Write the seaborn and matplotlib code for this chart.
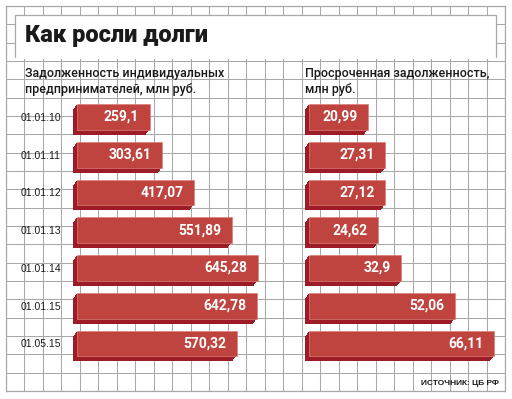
import pandas as pd
import seaborn as sns
import matplotlib.pyplot as plt
from matplotlib import patheffects as pe
from matplotlib.patches import Rectangle

# data
dates = ["01.01.10", "01.01.11", "01.01.12", "01.01.13", "01.01.14", "01.01.15", "01.05.15"]
debt = [259.1, 303.61, 417.07, 551.89, 645.28, 642.78, 570.32]
overdue = [20.99, 27.31, 27.12, 24.62, 32.9, 52.06, 66.11]

title = "Как росли долги"
left_caption = ["Задолженность индивидуальных", "предпринимателей, млн руб."]
right_caption = ["Просроченная задолженность,", "млн руб."]
source = "ИСТОЧНИК: ЦБ РФ"

FACE = "#bf443f"
DARK = "#9c1b26"
EDGE = "#dc7f78"
GRID = "#a8a8a8"

W, H = 512, 399

sns.set_style("white")
plt.rcParams["font.family"] = ["Roboto", "DejaVu Sans"]
NARROW = ["Liberation Sans", "DejaVu Sans"]

fig = plt.figure(figsize=(W / 100, H / 100), dpi=100)
fig.patch.set_facecolor("white")


def px_axes(x0, y0, x1, y1, **kw):
    return fig.add_axes([x0 / W, 1 - y1 / H, (x1 - x0) / W, (y1 - y0) / H], **kw)


# ---------------------------------------------------------------- graph paper
bg = px_axes(6, 6, 505, 391)
bg.set_xlim(0, 27)
bg.set_ylim(21, 0)
bg.set_xticks(range(28))
bg.set_yticks(range(22))
bg.tick_params(length=0, labelbottom=False, labelleft=False)
bg.grid(True, color=GRID, linewidth=0.75)
for s in bg.spines.values():
    s.set_color(GRID)
    s.set_linewidth(0.9)

# title box (white, open at the bottom)
fig.patches.append(Rectangle((15 / W, 1 - 59 / H), (496 - 15) / W, (59 - 15) / H,
                             transform=fig.transFigure, facecolor="white",
                             edgecolor="none", zorder=2))
for xs, ys in [([15, 15], [57, 15]), ([15, 496], [15, 15]), ([496, 496], [15, 57])]:
    fig.add_artist(plt.Line2D([x / W for x in xs], [1 - y / H for y in ys],
                              color=GRID, linewidth=0.9, zorder=3))

fig.text(25 / W, 1 - 42 / H, title, fontsize=17, fontweight="heavy",
         color="#1a1a1a", va="baseline", zorder=4)

for x0, lines in [(25, left_caption), (305, right_caption)]:
    for k, line in enumerate(lines):
        fig.text(x0 / W, 1 - (77.5 + 15 * k) / H, line, fontsize=9,
                 fontweight="medium", color="#1a1a1a", va="baseline")

fig.text(499 / W, 1 - 385 / H, source, fontsize=6, fontweight="bold",
         family=NARROW, color="#1a1a1a", ha="right", va="baseline")

# ---------------------------------------------------------------- bars
shadow = [pe.SimplePatchShadow(offset=(-0.8 * i * 0.72, -i * 0.72),
                               shadow_rgbFace=DARK, alpha=1) for i in range(1, 6)]
shadow.append(pe.Normal())

df = pd.DataFrame({"date": dates, "debt": debt, "overdue": overdue})

panels = [("debt", (77, 98, 77 + 0.28 * 700, 362.3), 700),
          ("overdue", (309, 98, 309 + 2.8 * 70, 362.3), 70)]

for col, box, xmax in panels:
    ax = px_axes(*box)
    ax.patch.set_alpha(0)
    sns.barplot(data=df, x=col, y="date", orient="h", width=0.682,
                color=FACE, saturation=1, edgecolor=EDGE, linewidth=0.5, ax=ax)
    for p in ax.patches:
        p.set_path_effects(shadow)
        p.set_clip_on(False)
    for i, v in enumerate(df[col]):
        ax.annotate(f"{v}".replace(".", ","), (v, i), xytext=(-7.5, 0),
                    textcoords="offset points", ha="right", va="center",
                    color="white", fontsize=10, fontweight="bold")
    ax.set_xlim(0, xmax)
    ax.set_ylim(6.5, -0.5)
    ax.set_xlabel("")
    ax.set_ylabel("")
    ax.set_xticks([])
    sns.despine(ax=ax, left=True, bottom=True)
    if col == "debt":
        ax.tick_params(axis="y", length=0, pad=11.5, labelsize=7.5)
        for t in ax.get_yticklabels():
            t.set_family(NARROW)
            t.set_color("#1a1a1a")
    else:
        ax.set_yticks([])

fig.savefig("out.png", dpi=100)
